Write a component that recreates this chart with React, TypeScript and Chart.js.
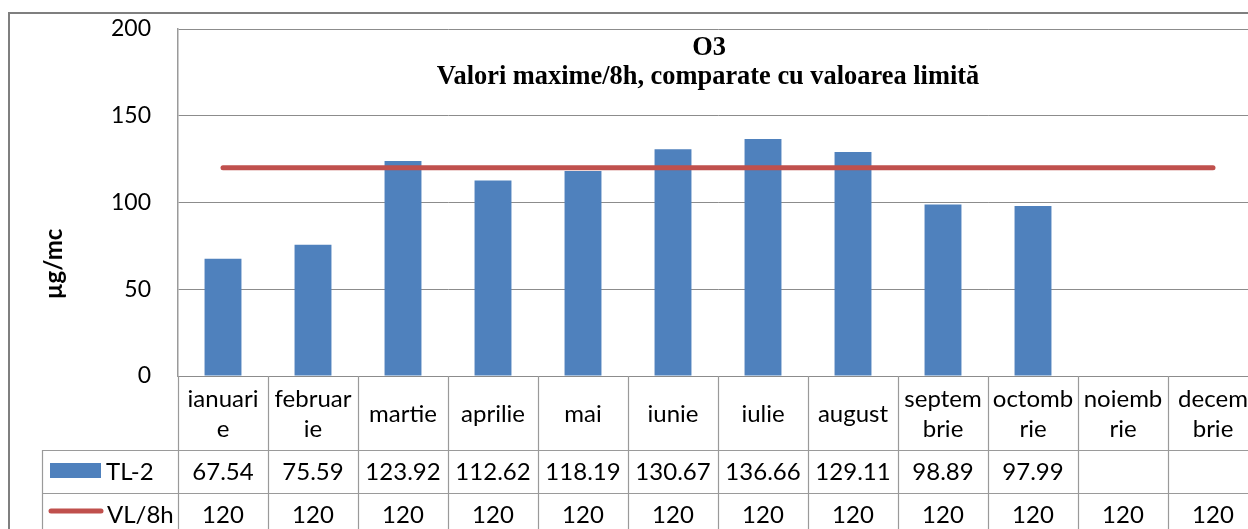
import React, { useEffect, useRef } from 'react';
import { Chart, registerables } from 'chart.js';

Chart.register(...registerables);

// ---- data ----
const months = ['ianuarie', 'februarie', 'martie', 'aprilie', 'mai', 'iunie', 'iulie', 'august', 'septembrie', 'octombrie', 'noiembrie', 'decembrie'];
const monthLabelLines = [
  ['ianuari', 'e'], ['februar', 'ie'], ['martie'], ['aprilie'], ['mai'], ['iunie'],
  ['iulie'], ['august'], ['septem', 'brie'], ['octomb', 'rie'], ['noiemb', 'rie'], ['decem', 'brie'],
];
const tl2Values: (number | null)[] = [67.54, 75.59, 123.92, 112.62, 118.19, 130.67, 136.66, 129.11, 98.89, 97.99, null, null];
const vlValues: number[] = [120, 120, 120, 120, 120, 120, 120, 120, 120, 120, 120, 120];
const yTicks = [0, 50, 100, 150, 200];
const seriesNames = ['TL-2', 'VL/8h'];
const titleLines = ['O3', 'Valori maxime/8h, comparate cu valoarea limită'];
const yAxisTitle = 'µg/mc';

const BAR_COLOR = '#4F81BD';
const LINE_COLOR = '#C0504D';
const TABLE_LINE = '#9a9a9a';
const FONT = 'Lato, Carlito, "Liberation Sans", sans-serif';

const CANVAS_W = 1262;
const CANVAS_H = 560;

const tablePlugin = {
  id: 'excelTable',
  afterDraw(chart: any) {
    const { ctx, chartArea, scales } = chart;
    const xs = scales.x;
    const n = months.length;
    const half = (xs.getPixelForValue(1) - xs.getPixelForValue(0)) / 2;
    const top = chartArea.bottom;
    const r1 = top + 74;
    const r2 = r1 + 43;
    const r3 = r2 + 43;
    const tableLeft = 42;
    const far = CANVAS_W + 20;
    const al = (v: number) => Math.round(v) + 0.5;

    ctx.save();
    // outer chart border
    ctx.strokeStyle = '#7f7f7f';
    ctx.lineWidth = 2;
    ctx.strokeRect(9, 13, CANVAS_W + 40, CANVAS_H + 40);

    // table grid
    ctx.strokeStyle = TABLE_LINE;
    ctx.lineWidth = 1.2;
    ctx.beginPath();
    for (let i = 0; i <= n; i++) {
      const bx = al(i < n ? xs.getPixelForValue(i) - half : xs.getPixelForValue(n - 1) + half);
      ctx.moveTo(bx, top);
      ctx.lineTo(bx, r3);
    }
    ctx.moveTo(al(tableLeft), r1);
    ctx.lineTo(al(tableLeft), r3);
    [r1, r2, r3].forEach((ry) => {
      ctx.moveTo(tableLeft, al(ry));
      ctx.lineTo(far, al(ry));
    });
    ctx.stroke();

    // category labels and values
    ctx.fillStyle = '#000';
    ctx.font = `24px ${FONT}`;
    ctx.textAlign = 'center';
    ctx.textBaseline = 'alphabetic';
    const c1 = (top + r1) / 2;
    for (let i = 0; i < n; i++) {
      const cx = xs.getPixelForValue(i);
      const lines = monthLabelLines[i];
      const start = c1 - ((lines.length - 1) * 30) / 2;
      lines.forEach((ln, k) => ctx.fillText(ln, cx, start + k * 30 + 9));
      const v1 = tl2Values[i];
      if (v1 !== null && v1 !== undefined) ctx.fillText(String(v1), cx, (r1 + r2) / 2 + 8);
      const v2 = vlValues[i];
      if (v2 !== null && v2 !== undefined) ctx.fillText(String(v2), cx, (r2 + r3) / 2 + 8);
    }

    // legend keys
    ctx.textAlign = 'left';
    ctx.fillStyle = BAR_COLOR;
    ctx.fillRect(50, 463, 51, 15);
    ctx.fillStyle = '#000';
    ctx.fillText(seriesNames[0], 106, (r1 + r2) / 2 + 8);
    ctx.strokeStyle = LINE_COLOR;
    ctx.lineWidth = 5;
    ctx.lineCap = 'round';
    ctx.beginPath();
    ctx.moveTo(51, 511);
    ctx.lineTo(101, 511);
    ctx.stroke();
    ctx.fillText(seriesNames[1], 107, (r2 + r3) / 2 + 8);

    // title
    ctx.textAlign = 'center';
    ctx.font = `bold 26.4px "Liberation Serif", "Times New Roman", serif`;
    ctx.fillText(titleLines[0], 709, 55);
    ctx.fillText(titleLines[1], 708, 84);

    // y axis title
    ctx.translate(54, 264);
    ctx.rotate(-Math.PI / 2);
    ctx.font = `bold 24px ${FONT}`;
    ctx.textBaseline = 'middle';
    ctx.fillText(yAxisTitle, 0, 0);
    ctx.restore();
  },
};

export default function App() {
  const ref = useRef<HTMLCanvasElement | null>(null);

  useEffect(() => {
    if (!ref.current) return;
    const chart = new Chart(ref.current, {
      type: 'bar',
      data: {
        labels: months,
        datasets: [
          {
            type: 'line',
            label: seriesNames[1],
            data: vlValues,
            borderColor: LINE_COLOR,
            backgroundColor: LINE_COLOR,
            borderWidth: 5,
            borderCapStyle: 'round',
            pointRadius: 0,
            tension: 0,
            order: 0,
          } as any,
          {
            type: 'bar',
            label: seriesNames[0],
            data: tl2Values,
            backgroundColor: BAR_COLOR,
            borderWidth: 0,
            barPercentage: 0.41,
            categoryPercentage: 1,
            order: 1,
          } as any,
        ],
      },
      options: {
        responsive: false,
        animation: false,
        layout: { padding: { left: 0, top: 29, right: 4, bottom: 0 } },
        plugins: {
          legend: { display: false },
          title: { display: false },
          tooltip: { enabled: false },
        },
        scales: {
          x: {
            afterFit: (s: any) => { s.height = CANVAS_H - 376; s.paddingLeft = 0; s.paddingRight = 0; },
            ticks: { display: false },
            grid: { display: false },
            border: { display: false },
          },
          y: {
            min: 0,
            max: 200,
            afterFit: (s: any) => { s.width = 178; s.paddingTop = 0; s.paddingBottom = 0; },
            afterBuildTicks: (s: any) => { s.ticks = yTicks.map((v) => ({ value: v })); },
            ticks: { font: { size: 23, family: FONT }, color: '#000', padding: 27 },
            grid: { color: '#8c8c8c', lineWidth: 1, drawTicks: false },
            border: { display: true, color: '#9a9a9a', width: 1.5 },
          },
        },
      },
      plugins: [tablePlugin],
    } as any);
    return () => chart.destroy();
  }, []);

  return (
    <div style={{ position: 'absolute', left: 0, top: 0, width: 1248, height: 529, overflow: 'hidden', background: '#fff' }}>
      <canvas ref={ref} width={CANVAS_W} height={CANVAS_H} style={{ display: 'block' }} />
    </div>
  );
}
